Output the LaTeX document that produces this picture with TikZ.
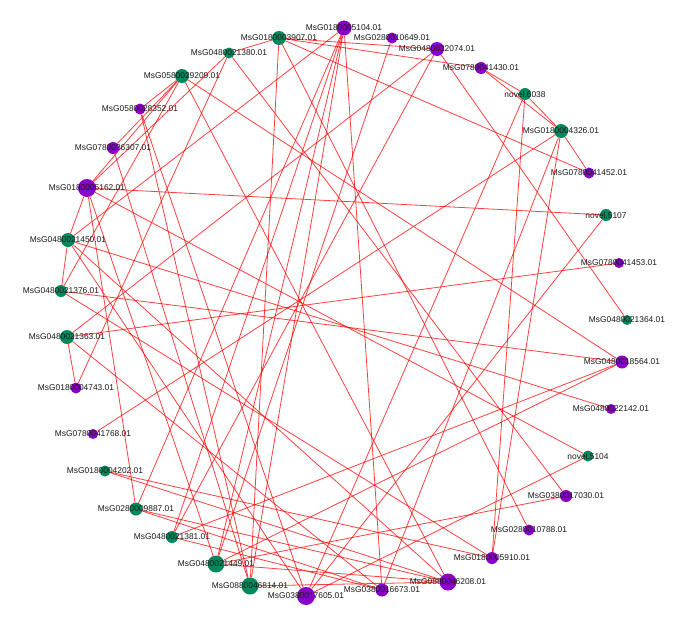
\documentclass[tikz,border=0pt]{standalone}
\usepackage{fontspec}
\setmainfont{Liberation Sans}
\usetikzlibrary{backgrounds}
\definecolor{gnc}{RGB}{0,137,92}
\definecolor{pnc}{RGB}{138,0,200}
\tikzset{
  vtx/.style={circle,inner sep=0pt,draw=none},
  edge/.style={draw=red,draw opacity=0.75,line width=0.8pt},
  lab/.style={inner sep=0pt,font=\fontsize{8.4}{10}\selectfont,text=black!90}
}
\begin{document}
\begin{tikzpicture}[x=1pt,y=-1pt]
\useasboundingbox (0,0) rectangle (700,616);
\foreach \n/\x/\y/\r/\c in {
 n5104/344/28/7.5/pnc, n0649/392/38/5.5/pnc, n3907/279/38/7/gnc, n2074/437/49/7/pnc,
 n1380/229/53/5.5/gnc, n1430/481/68/6/pnc, n9209/182/76/7/gnc, n6038/525/94/6/gnc,
 n8352/140/109/5.5/pnc, n4326/561/131/7/gnc, n6307/113/148/6/pnc, n1452/589/173/5.5/pnc,
 n5162/87/188/9/pnc, n5107/606/215/6/gnc, n1450/68/240/7/gnc, n1453/619/263/5/pnc,
 n1376/61/291/6/gnc, n1364/627/320/5/gnc, n1363/67/337/7/gnc, n8564/622/362/6.5/pnc,
 n4743/76/388/5.5/pnc, n2142/611/409/5/pnc, n1768/93/434/5/pnc, nv5104/588/456/5.5/gnc,
 n4202/105/471/5.5/gnc, n7030/566/496/6/pnc, n9887/136/509/6.5/gnc, n0788/529/530/5.5/pnc,
 n1381/172/537/6/gnc, n5910/492/558/6/pnc, n1449/216/564/8.5/gnc, n6208/448/582/8.5/pnc,
 n6814/250/586/8.5/gnc, n6673/382/590/6.5/pnc, n7605/306/596/9/pnc}
 {\node[vtx,fill=\c,minimum size=2*\r pt] (\n) at (\x,\y) {};}
\begin{scope}[on background layer]
\fill[white] (0,0) rectangle (700,616);
\foreach \a/\b in {
 n3907/n2074, n3907/n1430, n3907/n1452, n3907/n1380, n3907/n0788, n3907/n6814,
 n5162/n5107, n1363/n1453, n1450/n2142, n1768/n4326, n1380/n7030, n7030/n1449,
 n1363/n4743, n1380/n5162, n9209/n6307, n9209/n5162, n9209/n8352,
 n1430/n6038, n1430/n4326, n6038/n4326, n4326/n1452, n6038/n5910, n4326/n5910,
 n2074/n1364, n5107/n7605, n8564/n1381, n8564/n1449, n9209/n8564, n1376/n8564,
 n1363/n2074, n4743/n1380, n1376/n9209, n1450/n1376, n1450/n5162, n1450/n5104,
 n5162/nv5104, nv5104/n7605, n9209/n6208, n1450/n6208, n1449/n6208, n4202/n5910,
 n4202/n6208, n0649/n1449, n5162/n9887, n9887/n6673, n6673/n4326, n5104/n1449,
 n5104/n6814, n5104/n6673, n9887/n5104, n2074/n1381, n8352/n6814, n6307/n6814,
 n5162/n1449, n1363/n6673, n1376/n5910, n1450/n7605, n8352/n7605, n5104/n1381,
 n6814/n6208, n9887/n6208, n1381/n6673, n6038/n7605}
 {\draw[edge] (\a) -- (\b);}
\end{scope}
\foreach \n/\t in {
 n5104/MsG0180005104.01, n0649/MsG0280010649.01, n3907/MsG0180003907.01, n2074/MsG0480022074.01,
 n1380/MsG0480021380.01, n1430/MsG0780041430.01, n9209/MsG0580029209.01, n6038/novel.6038,
 n8352/MsG0580028352.01, n4326/MsG0180004326.01, n6307/MsG0780036307.01, n1452/MsG0780041452.01,
 n5162/MsG0180005162.01, n5107/novel.5107, n1450/MsG0480021450.01, n1453/MsG0780041453.01,
 n1376/MsG0480021376.01, n1364/MsG0480021364.01, n1363/MsG0480021363.01, n8564/MsG0480018564.01,
 n4743/MsG0180004743.01, n2142/MsG0480022142.01, n1768/MsG0780041768.01, nv5104/novel.5104,
 n4202/MsG0180004202.01, n7030/MsG0380017030.01, n9887/MsG0280009887.01, n0788/MsG0280010788.01,
 n1381/MsG0480021381.01, n5910/MsG0180005910.01, n1449/MsG0480021449.01, n6208/MsG0880046208.01,
 n6814/MsG0880046814.01, n6673/MsG0380016673.01, n7605/MsG0380017605.01}
 {\node[lab] (l\n) at (\n) {\t};}
\end{tikzpicture}
\end{document}
